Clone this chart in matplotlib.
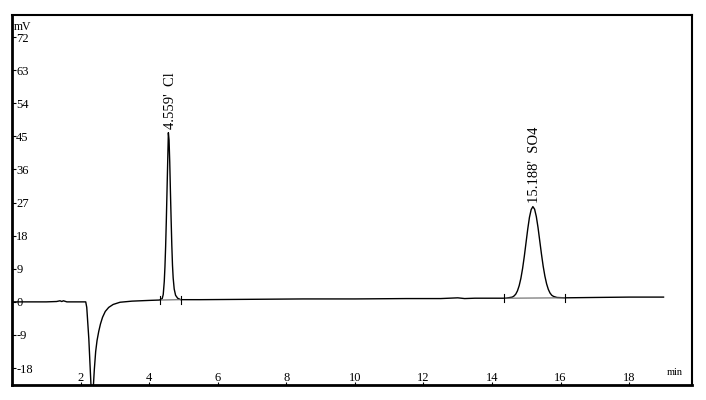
import matplotlib
matplotlib.use("Agg")
import matplotlib.pyplot as plt

plt.rcParams["axes.unicode_minus"] = False

# Chromatogram trace (retention time in min, signal in mV)
time_min = [0.00, 0.50, 1.00, 1.30, 1.40, 1.45, 1.50, 1.60, 2.00, 2.15, 2.18, 2.24, 2.30, 2.33,
            2.36, 2.40, 2.44, 2.48, 2.53, 2.58, 2.64, 2.72, 2.82, 2.95, 3.15, 3.50, 4.00, 4.30,
            4.38, 4.41, 4.44, 4.46, 4.48, 4.50, 4.52, 4.54, 4.56, 4.58, 4.60, 4.62,
            4.64, 4.66, 4.68, 4.70, 4.73, 4.77, 4.83, 4.92, 5.50, 7.00, 8.50, 10.00,
            11.50, 12.50, 13.00, 13.20, 13.50, 14.00, 14.40,
            14.59, 14.64, 14.69, 14.74, 14.79, 14.84, 14.89, 14.94, 14.99, 15.04, 15.09,
            15.14, 15.19, 15.24, 15.29, 15.34, 15.39, 15.44, 15.49, 15.54, 15.59, 15.64,
            15.69, 15.74, 15.79, 15.89, 16.12, 17.00, 18.00, 19.00]
signal_mv = [0.0, 0.0, 0.0, 0.1, 0.3, 0.1, 0.3, 0.0, 0.0, 0.0, -1.5, -10.0, -22.0, -28.0,
             -25.0, -18.5, -13.5, -10.5, -8.0, -6.0, -4.2, -2.6, -1.5, -0.7, -0.1, 0.2, 0.4, 0.5,
             0.9, 2.0, 5.5, 9.5, 15.0, 22.0, 30.0, 38.0, 46.0, 44.0, 38.0, 30.0,
             22.5, 15.5, 10.0, 6.5, 3.5, 1.8, 1.0, 0.6, 0.6, 0.7, 0.8, 0.8,
             0.9, 0.9, 1.1, 0.9, 1.0, 1.0, 1.0,
             1.3, 1.6, 2.1, 3.0, 4.4, 6.4, 9.1, 12.4, 16.1, 19.8, 23.0,
             25.1, 25.9, 25.2, 23.2, 20.2, 16.6, 13.0, 9.7, 7.0, 4.9, 3.4,
             2.4, 1.8, 1.5, 1.2, 1.1, 1.2, 1.3, 1.3]

# Peak table
peak_names = ["Cl", "SO4"]
peak_rt = [4.559, 15.188]
peak_apex = [46.0, 25.9]
peak_start = [4.33, 14.36]
peak_end = [4.94, 16.12]
peak_base_start = [0.5, 1.0]
peak_base_end = [0.6, 1.1]

x_ticks = [2, 4, 6, 8, 10, 12, 14, 16, 18]
y_ticks = [-18, -9, 0, 9, 18, 27, 36, 45, 54, 63, 72]

serif = "Liberation Serif"

fig = plt.figure(figsize=(7.06, 4.0), dpi=100)
ax = fig.add_axes([12 / 706, 15 / 400, (692 - 12) / 706, (385 - 15) / 400])

ax.plot(time_min, signal_mv, color="black", lw=1.0)

for name, rt, apex, s, e, bs, be in zip(peak_names, peak_rt, peak_apex, peak_start,
                                         peak_end, peak_base_start, peak_base_end):
    ax.plot([s, e], [bs, be], color="#666666", lw=0.8)
    ax.plot([s, s], [bs - 1.1, bs + 1.1], color="black", lw=0.8)
    ax.plot([e, e], [be - 1.1, be + 1.1], color="black", lw=0.8)
    ax.text(rt + 0.06, apex + 1.0, f"{rt:.3f}'  {name}", rotation=90,
            ha="center", va="bottom", fontsize=10.5, family=serif, color="black")

ax.set_xlim(0, 19.83)
ax.set_ylim(-22.6, 78.0)
ax.set_xticks(x_ticks)
ax.set_xticklabels([str(v) for v in x_ticks])
ax.set_yticks(y_ticks)
ax.set_yticklabels([str(v) for v in y_ticks])

ax.tick_params(axis="y", direction="in", length=3, width=0.8, pad=-3, labelsize=9)
ax.tick_params(axis="x", direction="in", length=2, width=0.8, pad=-1, labelsize=9)
for lab in ax.get_yticklabels():
    lab.set_horizontalalignment("left")
    lab.set_family(serif)
for lab in ax.get_xticklabels():
    lab.set_verticalalignment("bottom")
    lab.set_family(serif)

ax.text(0.002, 0.967, "mV", transform=ax.transAxes, fontsize=8.5, family=serif,
        ha="left", va="center")
ax.text(0.975, 0.035, "min", transform=ax.transAxes, fontsize=7.5, family=serif,
        ha="center", va="center")

for side in ["left", "bottom"]:
    ax.spines[side].set_linewidth(2.0)
for side in ["top", "right"]:
    ax.spines[side].set_linewidth(1.5)

fig.savefig("out.png", dpi=100)
